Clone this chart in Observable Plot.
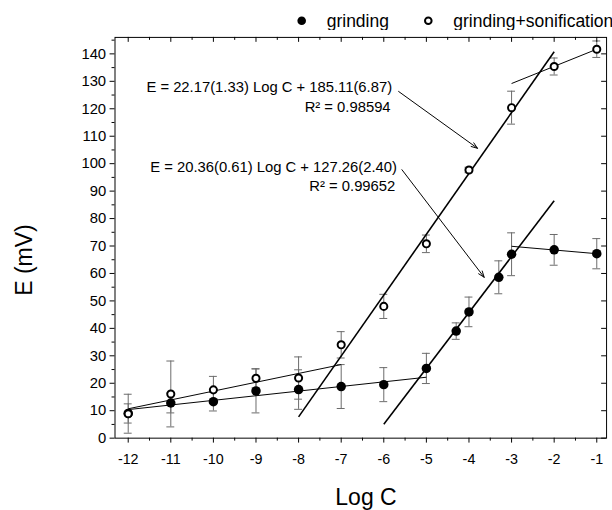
<!DOCTYPE html>
<html><head><meta charset="utf-8">
<script src="https://cdn.jsdelivr.net/npm/d3@7"></script>
<script src="https://cdn.jsdelivr.net/npm/@observablehq/plot@0.6"></script>
<style>
body{margin:0;overflow:hidden;background:#fff;font-family:"Liberation Sans",Arial,sans-serif;}
#wrap{position:relative;width:612px;height:510px;overflow:hidden;background:#fff;}
#legend{position:absolute;left:0;top:0;}
#chart{position:absolute;left:0;top:30px;}
.ttl{position:absolute;font-size:23px;color:#000;white-space:nowrap;line-height:1;}
</style></head><body>
<div id="wrap">
  <svg id="legend" width="612" height="30"></svg>
  <div id="chart"></div>
  <div class="ttl" id="ytitle" style="left:24px;top:260px;transform:translate(-50%,-50%) rotate(-90deg);">E (mV)</div>
  <div class="ttl" id="xtitle" style="left:366px;top:497px;transform:translate(-50%,-50%);">Log C</div>
</div>
<script>
// ---- data ----
const seriesNames = ["grinding", "grinding+sonification"];

const grindLogC = [-12, -11, -10, -9, -8, -7, -6, -5, -4.3, -4, -3.3, -3, -2, -1];
const grindE    = [9, 12.8, 13.3, 17.2, 17.7, 18.8, 19.5, 25.4, 39.0, 46.0, 58.6, 67.0, 68.6, 67.2];
const grindErr  = [3.5, 3.6, 3.4, 8, 7.2, 8, 6.2, 5.5, 3, 5.4, 6, 7.8, 5.6, 5.5];

const sonicLogC = [-12, -11, -10, -9, -8, -7, -6, -5, -4, -3, -2, -1];
const sonicE    = [8.9, 16.1, 17.6, 21.8, 21.9, 34.0, 48.0, 70.8, 97.7, 120.4, 135.4, 141.7];
const sonicErr  = [7.1, 12, 4.9, 3.5, 7.7, 4.8, 4.4, 3.2, 1, 6, 3.1, 3];

// fit segments [x1, y1, x2, y2]
const grindFits = [[-12, 10.4, -5, 22.2], [-6, 5.1, -2, 86.5], [-3, 69.9, -1, 67.2]];
const sonicFits = [[-12, 10.7, -7, 26.8], [-8, 7.75, -2, 140.8], [-3, 129.2, -1, 141.7]];
const steepIndex = 1;

const annoX = [-5.805, -5.84, -5.69, -5.73];
const annoY = [128.0, 120.4, 98.8, 91.6];
const annoText = [
  "E = 22.17(1.33) Log C + 185.11(6.87)",
  "R\u00B2 = 0.98594",
  "E = 20.36(0.61) Log C + 127.26(2.40)",
  "R\u00B2 = 0.99652"
];
// arrows [x1, y1, x2, y2]
const arrowSegs = [[-5.652, 126.3, -3.80, 105.6], [-5.574, 97.8, -3.643, 58.6]];

const xMajor = d3.range(-12, 0, 1);
const xMinor = d3.range(-11.5, -0.9, 1);
const yMajor = d3.range(0, 141, 10);
const yMinor = d3.range(5, 146, 10);

// ---- build tables ----
const grind = grindLogC.map((x, i) => ({x, E: grindE[i], err: grindErr[i]}));
const sonic = sonicLogC.map((x, i) => ({x, E: sonicE[i], err: sonicErr[i]}));
const toSeg = (arr) => arr.map((s, i) => ({x1: s[0], y1: s[1], x2: s[2], y2: s[3], steep: i === steepIndex}));
const fits = toSeg(grindFits).concat(toSeg(sonicFits));
const annos = annoText.map((t, i) => ({x: annoX[i], y: annoY[i], t}));
const arrows = arrowSegs.map(s => ({x1: s[0], y1: s[1], x2: s[2], y2: s[3]}));

const W = 620, H = 480, mL = 116, mR = 6, mT = 7, mB = 67;
const plotW = W - mL - mR, plotH = H - mT - mB;
const xDom = [-12.31, -0.77];
const capHalf = 4 * (xDom[1] - xDom[0]) / plotW;
const errColor = "#6a6a6a";
const errMarks = (data) => [
  Plot.ruleX(data, {x: "x", y1: d => d.E - d.err, y2: d => d.E + d.err, stroke: errColor, strokeWidth: 1}),
  Plot.ruleY(data, {y: d => d.E + d.err, x1: d => d.x - capHalf, x2: d => d.x + capHalf, stroke: errColor, strokeWidth: 1}),
  Plot.ruleY(data, {y: d => d.E - d.err, x1: d => d.x - capHalf, x2: d => d.x + capHalf, stroke: errColor, strokeWidth: 1})
];

const chart = Plot.plot({
  width: W, height: H,
  marginLeft: mL, marginRight: mR, marginTop: mT, marginBottom: mB,
  style: {fontFamily: "'Liberation Sans', Arial, sans-serif", fontSize: "14.5px", color: "#000", background: "transparent", overflow: "visible"},
  x: {domain: xDom},
  y: {domain: [0, 146]},
  marks: [
    ...errMarks(grind),
    ...errMarks(sonic),
    Plot.link(fits.filter(d => !d.steep), {x1: "x1", y1: "y1", x2: "x2", y2: "y2", stroke: "#000", strokeWidth: 1}),
    Plot.link(fits.filter(d => d.steep), {x1: "x1", y1: "y1", x2: "x2", y2: "y2", stroke: "#000", strokeWidth: 1.6}),
    Plot.arrow(arrows, {x1: "x1", y1: "y1", x2: "x2", y2: "y2", stroke: "#000", strokeWidth: 1, headLength: 10, headAngle: 40, insetStart: 0, insetEnd: 0}),
    Plot.dot(grind, {x: "x", y: "E", r: 4.8, fill: "#000", stroke: "none"}),
    Plot.dot(sonic, {x: "x", y: "E", r: 3.6, fill: "#fff", stroke: "#000", strokeWidth: 2}),
    Plot.text(annos, {x: "x", y: "y", text: "t", textAnchor: "end", fontSize: 15, fill: "#000"}),
    // axes
    Plot.axisX({ticks: xMajor, tickSize: 5, tickPadding: 11, tickFormat: d => String(d), label: null, fontSize: 14.5}),
    Plot.axisX({ticks: xMinor, tickSize: 3, tickFormat: () => "", label: null}),
    Plot.axisY({ticks: yMajor, tickSize: 5, tickPadding: 4, tickFormat: d => String(d), label: null, fontSize: 15}),
    Plot.axisY({ticks: yMinor, tickSize: 3, tickFormat: () => "", label: null}),
    // inward ticks on top and right
    Plot.ruleX(xMajor, {x: d => d, insetBottom: plotH - 5, stroke: "#000"}),
    Plot.ruleX(xMinor, {x: d => d, insetBottom: plotH - 3, stroke: "#000"}),
    Plot.ruleY(yMajor, {y: d => d, insetLeft: plotW - 5, stroke: "#000"}),
    Plot.frame({stroke: "#000", strokeWidth: 1})
  ]
});
document.getElementById("chart").appendChild(chart);

// ---- legend ----
const lg = d3.select("#legend");
const legendItems = [
  {name: seriesNames[0], cx: 301.7, tx: 326.7, filled: true},
  {name: seriesNames[1], cx: 428.3, tx: 453.3, filled: false}
];
legendItems.forEach(it => {
  lg.append("circle").attr("cx", it.cx).attr("cy", 20.7).attr("r", it.filled ? 4.3 : 3.3)
    .attr("fill", it.filled ? "#000" : "#fff").attr("stroke", "#000").attr("stroke-width", it.filled ? 0 : 2);
  lg.append("text").attr("x", it.tx).attr("y", 20.7).attr("dy", "0.35em")
    .attr("font-family", "'Liberation Sans', Arial, sans-serif").attr("font-size", 17.5).attr("fill", "#000").text(it.name);
});
</script>
</body></html>
